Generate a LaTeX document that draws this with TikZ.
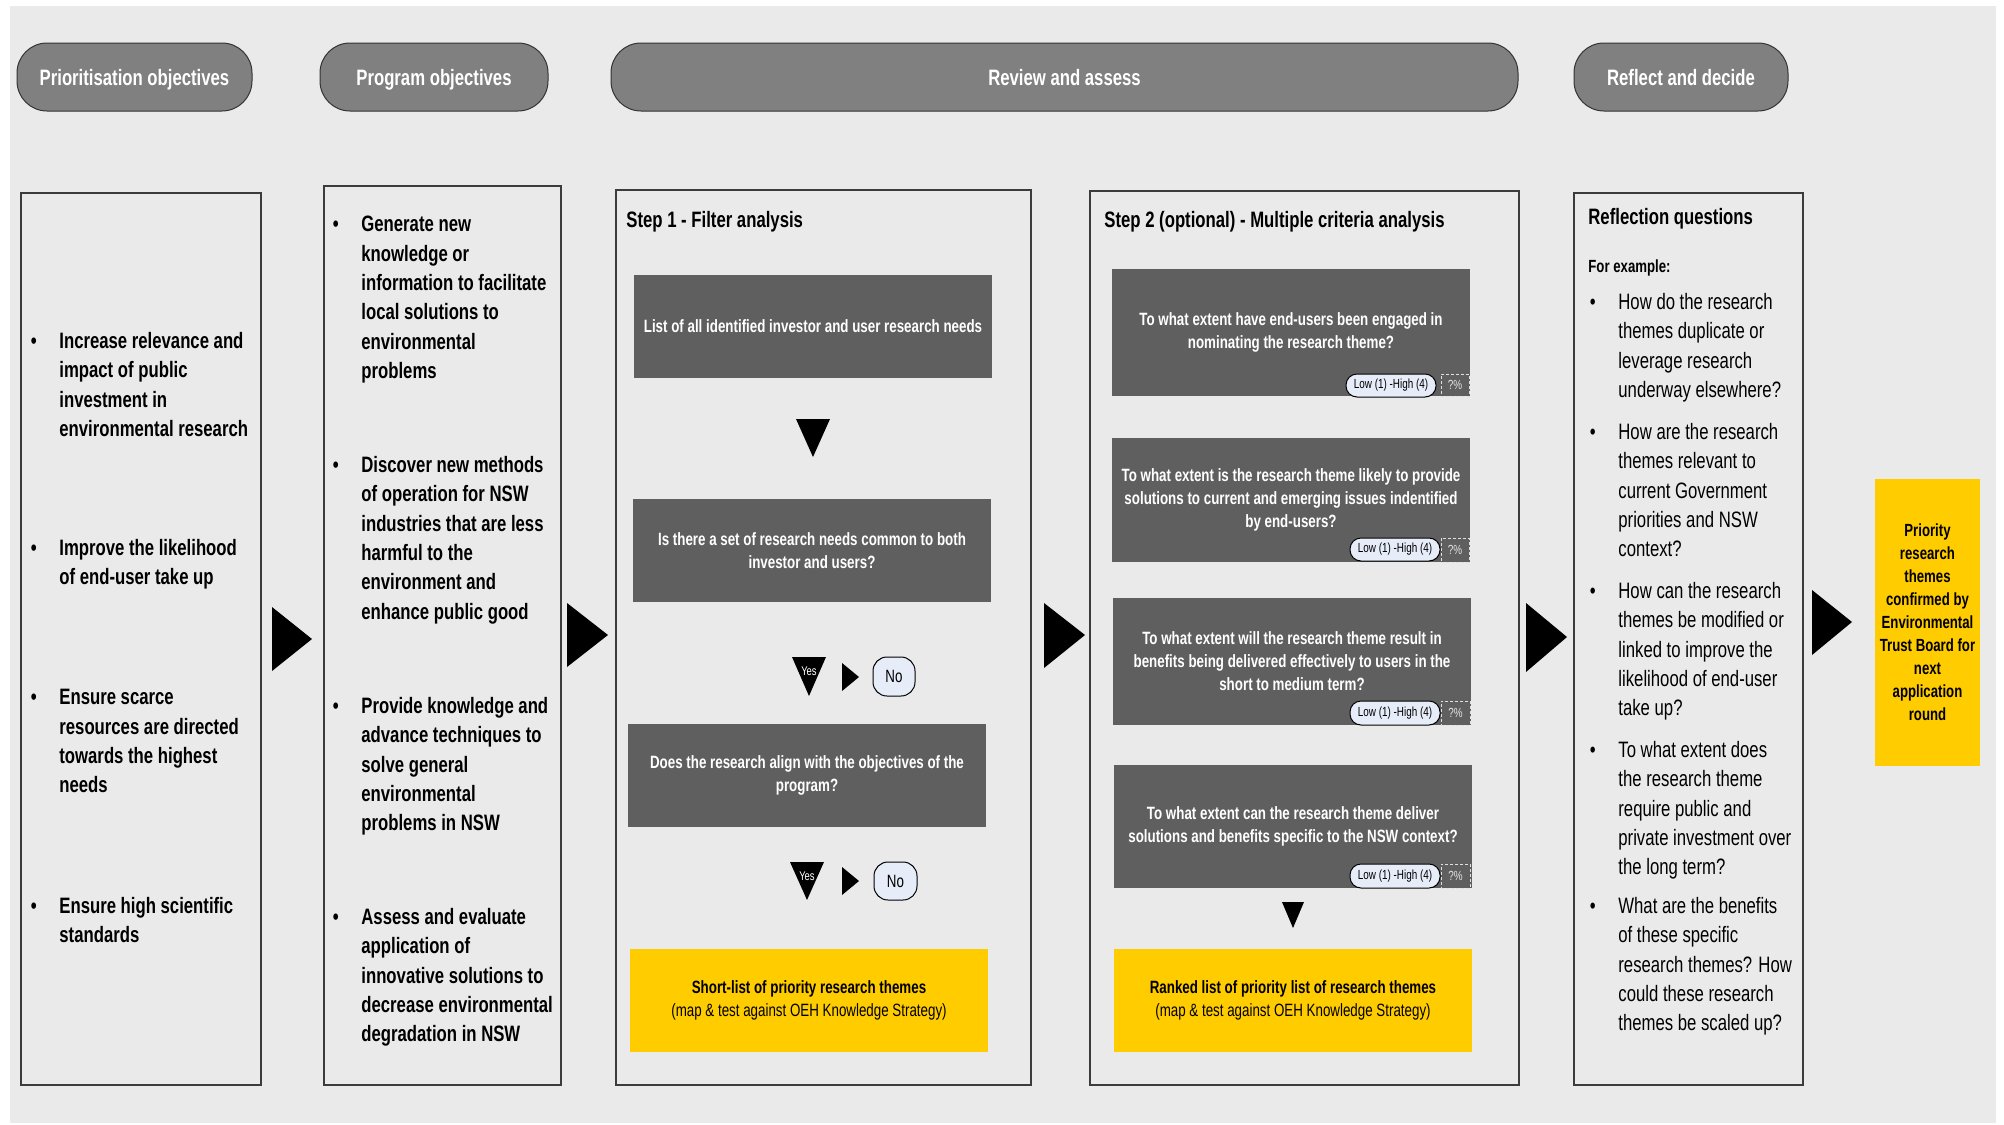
\documentclass[tikz,border=0pt]{standalone}
\usepackage{fontspec}
\setmainfont{Liberation Sans}[FakeStretch=0.75]
\usetikzlibrary{shapes.geometric}
\definecolor{bg}{HTML}{EAEAEA}
\definecolor{pillgrey}{HTML}{808080}
\definecolor{darkbox}{HTML}{5F5F5F}
\definecolor{gold}{HTML}{FFCC00}
\definecolor{paleblue}{HTML}{E6ECF8}
\definecolor{boxline}{HTML}{3C3C3C}
\newcommand\fmain{\fontsize{11.15}{14.65}\selectfont}
\newcommand\fsmall{\fontsize{8.9}{11.5}\selectfont}
\newcommand\fex{\fontsize{8.8}{11.5}\selectfont}
\newcommand\ftiny{\fontsize{6.6}{8}\selectfont}
\newcommand\fyes{\fontsize{6.3}{7}\selectfont}
\newcommand\bul{\llap{\textbullet\hspace{11.3pt}}}
\begin{document}
\begin{tikzpicture}[x=0.5pt,y=-0.5pt,
  geom/.style n args={4}{at={({(#1+#3)/2},{(#2+#4)/2})},minimum width={(#3-#1)*0.5pt},minimum height={(#4-#2)*0.5pt}},
  pill/.style={draw=black!80,line width=0.5pt,fill=pillgrey,rounded corners=15pt,inner sep=0pt,text=white,font=\fmain\bfseries,text height=8pt,text depth=0pt},
  panel/.style={draw=boxline,line width=0.7pt,fill=bg,inner sep=0pt},
  darkq/.style={fill=darkbox,inner sep=0pt,text=white,align=center,font=\fsmall\bfseries},
  goldbox/.style={fill=gold,inner sep=0pt,align=center,font=\fsmall},
  item/.style={anchor=north west,inner sep=0pt,align=left,font=\fmain\bfseries},
  ritem/.style={anchor=north west,inner sep=0pt,align=left,font=\fmain},
  heading/.style={anchor=west,inner sep=0pt,font=\fmain\bfseries,text height=8pt,text depth=0pt},
  nopill/.style={draw=black,line width=0.5pt,fill=paleblue,rounded corners=7pt,inner sep=0pt,font=\fsmall},
  ratingpill/.style={draw=black,line width=0.5pt,fill=paleblue,rounded corners=5.5pt,inner sep=0pt,font=\ftiny},
  pct/.style={draw=black!12,dash pattern=on 1.5pt off 1pt,line width=0.5pt,inner sep=0pt,font=\ftiny,text=black!10},
  tri/.style={fill=black},
  yeslabel/.style={inner sep=0pt,text=white,font=\fyes}
]
\useasboundingbox (0,0) rectangle (2004,1125);
\fill[white] (0,0) rectangle (2004,1125);
\fill[bg] (10,6) rectangle (1996,1123);

% header pills
\node[pill,geom={17}{43}{252}{111}] (h1) {Prioritisation objectives};
\node[pill,geom={320}{43}{548}{111}] (h2) {Program objectives};
\node[pill,geom={611}{43}{1518}{111}] (h3) {Review and assess};
\node[pill,geom={1574}{43}{1788}{111}] (h4) {Reflect and decide};

% panels
\node[panel,geom={21}{193}{261}{1085}] (b1) {};
\node[panel,geom={324}{186}{561}{1085}] (b2) {};
\node[panel,geom={616}{190}{1031}{1085}] (b3) {};
\node[panel,geom={1090}{191}{1519}{1085}] (b4) {};
\node[panel,geom={1574}{193}{1803}{1085}] (b5) {};

% big arrows
\fill[tri] (272,607) -- (312,639) -- (272,671) -- cycle;
\fill[tri] (567,603) -- (608,635) -- (567,667) -- cycle;
\fill[tri] (1044,603) -- (1085,635) -- (1044,668) -- cycle;
\fill[tri] (1526,603) -- (1567,637) -- (1526,672) -- cycle;
\fill[tri] (1812,590) -- (1852,622) -- (1812,655) -- cycle;

% panel 1
\node[item] (p1a) at (59,332) {\bul Increase relevance and\\impact of public\\investment in\\environmental research};
\node[item] (p1b) at (59,539) {\bul Improve the likelihood\\of end-user take up};
\node[item] (p1c) at (59,689) {\bul Ensure scarce\\resources are directed\\towards the highest\\needs};
\node[item] (p1d) at (59,897) {\bul Ensure high scientific\\standards};

% panel 2
\node[item] (p2a) at (361,216) {\bul Generate new\\knowledge or\\information to facilitate\\local solutions to\\environmental\\problems};
\node[item] (p2b) at (361,456) {\bul Discover new methods\\of operation for NSW\\industries that are less\\harmful to the\\environment and\\enhance public good};
\node[item] (p2c) at (361,697) {\bul Provide knowledge and\\advance techniques to\\solve general\\environmental\\problems in NSW};
\node[item] (p2d) at (361,908) {\bul Assess and evaluate\\application of\\innovative solutions to\\decrease environmental\\degradation in NSW};

% panel 3
\node[heading] (t3) at (626,219) {Step 1 - Filter analysis};
\node[darkq,geom={634}{275}{992}{378}] (s1) {List of all identified investor and user research needs};
\fill[tri] (796,419) -- (830,419) -- (813,457) -- cycle;
\node[darkq,geom={633}{499}{991}{602}] (s2) {Is there a set of research needs common to both\\investor and users?};
\fill[tri] (792,657) -- (826,657) -- (809,696) -- cycle;
\node[yeslabel] (y1) at (809,671) {Yes};
\fill[tri] (842,663) -- (859,677) -- (842,691) -- cycle;
\node[nopill,geom={873}{657}{915}{696}] (n1) {No};
\node[darkq,geom={628}{724}{986}{827}] (s3) {Does the research align with the objectives of the\\program?};
\fill[tri] (790,862) -- (824,862) -- (807,900) -- cycle;
\node[yeslabel] (y2) at (807,876) {Yes};
\fill[tri] (842,867) -- (859,881) -- (842,895) -- cycle;
\node[nopill,geom={874}{862}{917}{900}] (n2) {No};
\node[goldbox,geom={630}{949}{988}{1052}] (g1) {\textbf{Short-list of priority research themes}\\(map \& test against OEH Knowledge Strategy)};

% panel 4
\node[heading] (t4) at (1104,219) {Step 2 (optional) - Multiple criteria analysis};
\node[darkq,geom={1112}{269}{1470}{396}] (qa) {To what extent have end-users been engaged in\\nominating the research theme?};
\node[ratingpill,geom={1346}{374}{1436}{397}] (ra) {Low (1) -High (4)};
\node[pct,geom={1441}{374}{1469}{396}] (pa) {?\%};
\node[darkq,geom={1112}{438}{1470}{562}] (qb) {To what extent is the research theme likely to provide\\solutions to current and emerging issues indentified\\by end-users?};
\node[ratingpill,geom={1350}{538}{1440}{561}] (rb) {Low (1) -High (4)};
\node[pct,geom={1441}{538}{1469}{562}] (pb) {?\%};
\node[darkq,geom={1113}{598}{1471}{725}] (qc) {To what extent will the research theme result in\\benefits being delivered effectively to users in the\\short to medium term?};
\node[ratingpill,geom={1350}{701}{1440}{725}] (rc) {Low (1) -High (4)};
\node[pct,geom={1441}{701}{1470}{725}] (pc) {?\%};
\node[darkq,geom={1114}{765}{1472}{888}] (qd) {To what extent can the research theme deliver\\solutions and benefits specific to the NSW context?};
\node[ratingpill,geom={1350}{864}{1440}{888}] (rd) {Low (1) -High (4)};
\node[pct,geom={1441}{864}{1470}{888}] (pd) {?\%};
\fill[tri] (1282,902) -- (1304,902) -- (1293,928) -- cycle;
\node[goldbox,geom={1114}{949}{1472}{1052}] (g2) {\textbf{Ranked list of priority list of research themes}\\(map \& test against OEH Knowledge Strategy)};

% panel 5
\node[heading] (t5) at (1588,216) {Reflection questions};
\node[heading,font=\fex\bfseries,text height=6.3pt] (ex) at (1588,266) {For example:};
\node[ritem] (r1) at (1618,293) {\bul How do the research\\themes duplicate or\\leverage research\\underway elsewhere?};
\node[ritem] (r2) at (1618,423) {\bul How are the research\\themes relevant to\\current Government\\priorities and NSW\\context?};
\node[ritem] (r3) at (1618,582) {\bul How can the research\\themes be modified or\\linked to improve the\\likelihood of end-user\\take up?};
\node[ritem] (r4) at (1618,741) {\bul To what extent does\\the research theme\\require public and\\private investment over\\the long term?};
\node[ritem] (r5) at (1618,897) {\bul What are the benefits\\of these specific\\research themes? How\\could these research\\themes be scaled up?};

% final outcome
\node[goldbox,font=\fex\bfseries,geom={1875}{479}{1980}{766}] (fin) {Priority\\research\\themes\\confirmed by\\Environmental\\Trust Board for\\next\\application\\round};
\end{tikzpicture}
\end{document}
